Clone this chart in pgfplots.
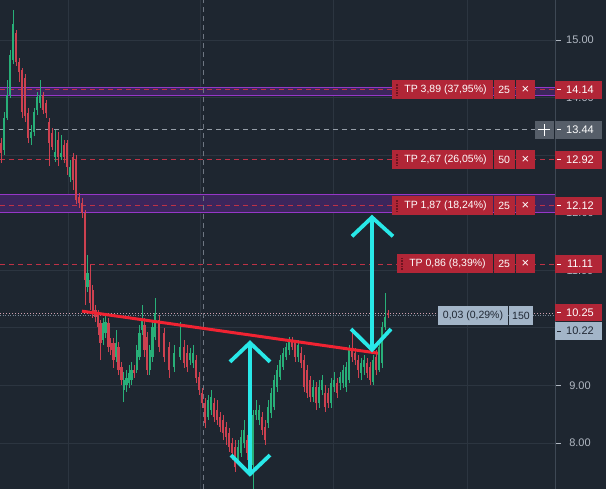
\documentclass[border=0pt]{standalone}
\usepackage{pgfplots}
\pgfplotsset{compat=1.18}
\usepackage{pgfplotstable}
\usepackage{fontspec}
\setmainfont{Liberation Sans}
\definecolor{bg}{RGB}{30,38,48}
\definecolor{gridc}{RGB}{44,53,64}
\definecolor{sepc}{RGB}{62,72,84}
\definecolor{tpred}{RGB}{178,38,55}
\definecolor{dashred}{RGB}{190,50,70}
\definecolor{pline}{RGB}{150,55,200}
\definecolor{pfill}{RGB}{60,38,92}
\definecolor{cy}{RGB}{40,232,232}
\definecolor{neck}{RGB}{240,35,50}
\definecolor{axtext}{RGB}{178,185,195}
\definecolor{posbox}{RGB}{163,181,200}
\definecolor{postext}{RGB}{32,40,52}
\definecolor{crossbox}{RGB}{86,94,105}
\definecolor{cgreen}{RGB}{40,175,120}
\definecolor{cred}{RGB}{205,65,80}
\definecolor{grip}{RGB}{110,20,32}
\definecolor{pinkdot}{RGB}{205,160,175}
\definecolor{graydot}{RGB}{120,135,150}
\definecolor{crossh}{RGB}{150,158,168}
\definecolor{crossv}{RGB}{110,118,130}

\pgfplotstableread{
x o h l c
4 13.09 13.75 13.00 13.65
7 13.65 14.31 13.61 14.05
10 14.05 14.83 13.99 14.74
13 14.65 15.52 14.58 15.28
31 13.30 13.52 13.18 13.40
34 13.40 13.82 13.33 13.75
37 13.78 14.10 13.70 14.01
40 13.91 14.31 13.82 14.05
55 12.97 13.44 12.88 13.05
61 12.97 13.35 12.92 13.04
70 12.62 12.92 12.53 12.79
87.6 10.71 11.27 10.62 10.95
103.1 9.79 10.17 9.70 10.08
105.7 9.91 10.22 9.82 10.10
116.1 9.49 9.96 9.41 9.74
123.9 8.92 9.23 8.71 9.09
126.5 9.01 9.27 8.89 9.13
129.1 9.04 9.36 8.96 9.22
131.7 9.09 9.41 9.01 9.27
136.8 9.27 9.70 9.22 9.62
139.4 9.49 10.05 9.44 9.91
142.0 9.96 10.40 9.88 10.14
149.8 9.27 9.70 9.18 9.62
152.4 9.49 10.14 9.41 10.02
155.0 9.84 10.52 9.79 10.26
174 9.32 9.70 9.23 9.56
180 9.49 10.10 9.44 9.67
190 9.44 9.65 9.36 9.56
193 9.39 9.70 9.30 9.56
208 8.45 8.83 8.40 8.75
211 8.57 8.92 8.49 8.80
238 7.71 8.05 7.62 7.93
241 7.83 8.23 7.76 8.10
244 8.00 8.40 7.91 8.23
253 7.62 8.57 7.20 8.49
256 8.49 8.75 8.40 8.57
259 8.40 8.66 8.31 8.57
268 8.35 8.75 8.26 8.63
271 8.52 8.96 8.43 8.87
274 8.63 9.18 8.57 9.09
277 8.97 9.36 8.89 9.27
280 9.15 9.53 9.09 9.44
283 9.32 9.65 9.27 9.56
286 9.49 9.74 9.44 9.67
289 9.62 9.84 9.53 9.79
298 9.49 9.79 9.41 9.70
313 8.80 9.09 8.71 8.97
319 8.69 9.09 8.61 8.97
322 8.92 9.18 8.83 9.09
331 8.69 9.13 8.61 9.04
334 8.97 9.23 8.89 9.09
340 9.04 9.23 8.92 9.15
343 9.04 9.36 8.96 9.27
346 8.97 9.41 8.89 9.32
349 9.09 9.70 9.04 9.62
361 9.22 9.47 9.09 9.39
364 9.32 9.53 9.18 9.44
373 9.06 9.53 9.01 9.44
379 9.27 9.75 9.23 9.67
382 9.39 10.10 9.30 10.02
385 10.02 10.61 9.96 10.19
}\greentab

\pgfplotstableread{
x o h l c
1 13.21 13.30 12.86 13.04
16 15.12 15.17 14.55 14.62
19 14.62 14.69 14.27 14.44
22 14.48 14.51 13.65 13.75
25 14.34 14.41 13.58 13.68
28 13.73 13.82 13.21 13.30
43 14.05 14.10 13.72 13.78
46 13.91 13.96 13.65 13.73
49 13.58 13.65 12.81 13.21
52 13.39 13.47 13.09 13.14
58 13.26 13.40 12.81 12.97
64 13.18 13.26 12.86 12.97
67 13.21 13.26 12.66 12.79
73 12.97 13.04 12.40 12.57
76 12.92 13.00 12.15 12.22
79 12.27 12.34 12.08 12.17
82 12.17 12.26 11.91 12.00
85 12.00 12.05 10.40 10.83
90.2 10.83 11.09 10.31 10.43
92.8 10.66 10.74 10.17 10.26
95.4 10.31 10.40 10.10 10.19
98.0 10.26 10.31 9.88 10.02
100.6 10.08 10.14 9.44 9.74
108.3 10.08 10.17 9.58 9.67
110.9 9.74 9.82 9.53 9.62
113.5 9.74 9.82 9.30 9.44
118.7 9.67 9.75 9.18 9.27
121.3 9.32 9.41 9.01 9.09
134.2 9.27 9.36 9.13 9.22
144.6 10.05 10.17 9.49 9.62
147.2 9.84 9.93 9.18 9.27
159 10.14 10.22 9.58 9.67
164 9.91 10.00 9.41 9.49
169 9.67 9.75 9.13 9.27
184 9.67 9.79 9.30 9.39
187 9.56 9.70 9.23 9.32
196 9.44 9.53 9.04 9.13
199 9.15 9.23 8.83 8.92
202 8.87 8.96 8.61 8.69
205 8.69 8.78 8.26 8.35
214 8.69 8.78 8.37 8.45
217 8.57 8.75 8.31 8.40
220 8.45 8.54 8.19 8.28
223 8.40 8.49 8.05 8.17
226 8.28 8.37 7.97 8.10
229 8.17 8.26 7.84 7.93
232 8.00 8.09 7.71 7.83
235 7.93 8.05 7.50 7.58
247 8.05 8.14 7.71 7.83
250 7.93 8.02 7.53 7.65
262 8.45 8.54 8.14 8.23
265 8.28 8.40 7.97 8.05
292 9.79 9.84 9.62 9.67
295 9.74 9.79 9.41 9.49
301 9.56 9.67 9.30 9.39
304 9.44 9.53 8.89 8.97
307 9.27 9.36 8.78 8.87
310 9.09 9.16 8.71 8.80
316 8.97 9.06 8.57 8.69
325 8.87 9.01 8.54 8.63
328 8.87 8.96 8.61 8.69
337 9.04 9.13 8.78 8.87
352 9.62 9.91 9.41 9.49
355 9.56 9.65 9.36 9.44
358 9.44 9.53 9.13 9.27
367 9.39 9.47 9.13 9.22
370 9.32 9.41 9.01 9.09
376 9.49 9.62 9.18 9.27
388 10.26 10.31 10.17 10.22
}\redtab

\begin{document}
\begin{tikzpicture}
\begin{axis}[
  width=606pt, height=489pt, scale only axis,
  xmin=0, xmax=606, ymin=7.201, ymax=15.695,
  axis lines=none,
  axis background/.style={fill=bg},
  clip=true,
]
% grid
\pgfplotsinvokeforeach{8,9,10,11,12,13,14,15}{
  \addplot[gridc, line width=0.8pt, forget plot] coordinates {(0,#1) (555,#1)};
}
\pgfplotsinvokeforeach{68,200,333,467}{
  \addplot[gridc, line width=0.8pt, forget plot] coordinates {(#1,7.2) (#1,15.7)};
}
\addplot[sepc, line width=0.8pt] coordinates {(555,7.2) (555,15.7)};

% purple bands
\fill[pfill] (axis cs:0,14.04) rectangle (axis cs:555,14.18);
\fill[pfill] (axis cs:0,12.00) rectangle (axis cs:555,12.31);
\addplot[pline, line width=1.1pt] coordinates {(0,14.04) (555,14.04)};
\addplot[pline, line width=1.1pt] coordinates {(0,14.18) (555,14.18)};
\addplot[pline, line width=1.1pt] coordinates {(0,12.00) (555,12.00)};
\addplot[pline, line width=1.1pt] coordinates {(0,12.31) (555,12.31)};

% dashed order lines
\addplot[dashred, line width=0.9pt, dash pattern=on 5pt off 4pt] coordinates {(0,14.14) (555,14.14)};
\addplot[dashred, line width=0.9pt, dash pattern=on 5pt off 4pt] coordinates {(0,12.92) (555,12.92)};
\addplot[dashred, line width=0.9pt, dash pattern=on 5pt off 4pt] coordinates {(0,12.12) (555,12.12)};
\addplot[dashred, line width=0.9pt, dash pattern=on 5pt off 4pt] coordinates {(0,11.11) (555,11.11)};
\addplot[pinkdot, line width=0.8pt, dash pattern=on 1pt off 2pt] coordinates {(0,10.25) (555,10.25)};
\addplot[graydot, line width=0.6pt, dash pattern=on 1pt off 1.5pt] coordinates {(0,10.21) (555,10.21)};

% crosshair
\addplot[crossh, line width=0.8pt, dash pattern=on 5pt off 4pt] coordinates {(0,13.44) (535,13.44)};
\addplot[crossv, line width=0.8pt, dash pattern=on 5pt off 4pt] coordinates {(203,7.2) (203,15.7)};

% candles: wicks
\addplot[draw=none, mark=none, error bars/.cd, y dir=plus, y explicit, error mark=none,
  error bar style={draw=cgreen, line width=1pt}]
  table[x=x, y=l, y error expr=\thisrow{h}-\thisrow{l}] {\greentab};
\addplot[draw=none, mark=none, error bars/.cd, y dir=plus, y explicit, error mark=none,
  error bar style={draw=cred, line width=1pt}]
  table[x=x, y=l, y error expr=\thisrow{h}-\thisrow{l}] {\redtab};
% candles: bodies
\addplot[draw=none, mark=none, error bars/.cd, y dir=plus, y explicit, error mark=none,
  error bar style={draw=cgreen, line width=2.5pt}]
  table[x=x, y=o, y error expr=\thisrow{c}-\thisrow{o}] {\greentab};
\addplot[draw=none, mark=none, error bars/.cd, y dir=plus, y explicit, error mark=none,
  error bar style={draw=cred, line width=2.5pt}]
  table[x=x, y=c, y error expr=\thisrow{o}-\thisrow{c}] {\redtab};

% neckline
\addplot[neck, line width=3pt] coordinates {(82,10.29) (378,9.56)};

% cyan arrows
\addplot[cy, line width=3.8pt] coordinates {(250,9.74) (250,7.46)};
\addplot[cy, line width=3.8pt, line join=miter] coordinates {(230,9.41) (250,9.74) (270,9.41)};
\addplot[cy, line width=3.8pt, line join=miter] coordinates {(231,7.79) (250,7.46) (270,7.79)};
\addplot[cy, line width=3.8pt] coordinates {(372,11.92) (372,9.62)};
\addplot[cy, line width=3.8pt, line join=miter] coordinates {(352,11.59) (372,11.92) (393,11.59)};
\addplot[cy, line width=3.8pt, line join=miter] coordinates {(351,9.98) (372,9.62) (391,9.98)};

% axis labels (partly hidden ones first)
\begin{scope}[every node/.style={font=\fontsize{11}{13}\selectfont, text=axtext, inner sep=0pt}]
\node at (axis cs:580,15.00) {15.00};
\node at (axis cs:580,14.00) {14.00};
\node at (axis cs:580,12.00) {12.00};
\node at (axis cs:580,11.00) {11.00};
\node at (axis cs:580,9.00) {9.00};
\node at (axis cs:580,8.00) {8.00};
\end{scope}
\draw[axtext, line width=0.8pt] (axis cs:556,15) -- (axis cs:561,15);
\draw[axtext, line width=0.8pt] (axis cs:556,9) -- (axis cs:561,9);
\draw[axtext, line width=0.8pt] (axis cs:556,8) -- (axis cs:561,8);

% TP boxes
\begin{scope}[every node/.style={font=\fontsize{10.5}{12}\selectfont, text=white, inner sep=0pt}]
% 14.14
\fill[tpred] ([yshift=-9.5pt]axis cs:392,14.14) rectangle ([yshift=9.5pt]axis cs:493,14.14);
\fill[tpred] ([yshift=-9.5pt]axis cs:494,14.14) rectangle ([yshift=9.5pt]axis cs:514.5,14.14);
\fill[tpred] ([yshift=-9.5pt]axis cs:515.5,14.14) rectangle ([yshift=9.5pt]axis cs:535,14.14);
\draw[grip, line width=1.6pt, dash pattern=on 0.8pt off 0.8pt] ([yshift=-6pt]axis cs:397,14.14) -- ([yshift=6pt]axis cs:397,14.14);
\node at (axis cs:445.5,14.14) {TP 3,89 (37,95\%)};
\node at (axis cs:504.2,14.14) {25};
\node[font=\fontsize{13}{13}\selectfont] at (axis cs:525.3,14.14) {×};
% 12.92
\fill[tpred] ([yshift=-9.5pt]axis cs:392,12.92) rectangle ([yshift=9.5pt]axis cs:493,12.92);
\fill[tpred] ([yshift=-9.5pt]axis cs:494,12.92) rectangle ([yshift=9.5pt]axis cs:514.5,12.92);
\fill[tpred] ([yshift=-9.5pt]axis cs:515.5,12.92) rectangle ([yshift=9.5pt]axis cs:535,12.92);
\draw[grip, line width=1.6pt, dash pattern=on 0.8pt off 0.8pt] ([yshift=-6pt]axis cs:397,12.92) -- ([yshift=6pt]axis cs:397,12.92);
\node at (axis cs:445.5,12.92) {TP 2,67 (26,05\%)};
\node at (axis cs:504.2,12.92) {50};
\node[font=\fontsize{13}{13}\selectfont] at (axis cs:525.3,12.92) {×};
% 12.12
\fill[tpred] ([yshift=-9.5pt]axis cs:392,12.12) rectangle ([yshift=9.5pt]axis cs:493,12.12);
\fill[tpred] ([yshift=-9.5pt]axis cs:494,12.12) rectangle ([yshift=9.5pt]axis cs:514.5,12.12);
\fill[tpred] ([yshift=-9.5pt]axis cs:515.5,12.12) rectangle ([yshift=9.5pt]axis cs:535,12.12);
\draw[grip, line width=1.6pt, dash pattern=on 0.8pt off 0.8pt] ([yshift=-6pt]axis cs:397,12.12) -- ([yshift=6pt]axis cs:397,12.12);
\node at (axis cs:445.5,12.12) {TP 1,87 (18,24\%)};
\node at (axis cs:504.2,12.12) {25};
\node[font=\fontsize{13}{13}\selectfont] at (axis cs:525.3,12.12) {×};
% 11.11
\fill[tpred] ([yshift=-9.5pt]axis cs:397,11.11) rectangle ([yshift=9.5pt]axis cs:493,11.11);
\fill[tpred] ([yshift=-9.5pt]axis cs:494,11.11) rectangle ([yshift=9.5pt]axis cs:514.5,11.11);
\fill[tpred] ([yshift=-9.5pt]axis cs:515.5,11.11) rectangle ([yshift=9.5pt]axis cs:535,11.11);
\draw[grip, line width=1.6pt, dash pattern=on 0.8pt off 0.8pt] ([yshift=-6pt]axis cs:402,11.11) -- ([yshift=6pt]axis cs:402,11.11);
\node at (axis cs:447.5,11.11) {TP 0,86 (8,39\%)};
\node at (axis cs:504.2,11.11) {25};
\node[font=\fontsize{13}{13}\selectfont] at (axis cs:525.3,11.11) {×};
\end{scope}

% position box
\fill[posbox] ([yshift=-9.5pt]axis cs:438,10.215) rectangle ([yshift=9.5pt]axis cs:508,10.215);
\fill[posbox] ([yshift=-9.5pt]axis cs:509,10.215) rectangle ([yshift=9.5pt]axis cs:533,10.215);
\node[font=\fontsize{10.5}{12}\selectfont, text=postext, inner sep=0pt] at (axis cs:473,10.215) {0,03 (0,29\%)};
\node[font=\fontsize{10.5}{12}\selectfont, text=postext, inner sep=0pt] at (axis cs:521,10.215) {150};

% price tags
\begin{scope}[every node/.style={font=\fontsize{11}{13}\selectfont, text=white, inner sep=0pt}]
\fill[tpred] ([yshift=-9pt]axis cs:555,14.14) rectangle ([yshift=9pt]axis cs:602,14.14);
\draw[white, line width=0.8pt] (axis cs:557,14.14) -- (axis cs:561,14.14);
\node at (axis cs:580,14.14) {14.14};
\fill[crossbox] ([yshift=-9pt]axis cs:535,13.44) rectangle ([yshift=9pt]axis cs:553.5,13.44);
\draw[white, line width=0.9pt] ([xshift=-6pt]axis cs:544,13.44) -- ([xshift=6pt]axis cs:544,13.44);
\draw[white, line width=0.9pt] ([yshift=-6pt]axis cs:544,13.44) -- ([yshift=6pt]axis cs:544,13.44);
\fill[crossbox] ([yshift=-9pt]axis cs:555,13.44) rectangle ([yshift=9pt]axis cs:602,13.44);
\draw[white, line width=0.8pt] (axis cs:557,13.44) -- (axis cs:561,13.44);
\node at (axis cs:580,13.44) {13.44};
\fill[tpred] ([yshift=-9pt]axis cs:555,12.92) rectangle ([yshift=9pt]axis cs:602,12.92);
\draw[white, line width=0.8pt] (axis cs:557,12.92) -- (axis cs:561,12.92);
\node at (axis cs:580,12.92) {12.92};
\fill[tpred] ([yshift=-9pt]axis cs:555,12.12) rectangle ([yshift=9pt]axis cs:602,12.12);
\draw[white, line width=0.8pt] (axis cs:557,12.12) -- (axis cs:561,12.12);
\node at (axis cs:580,12.12) {12.12};
\fill[tpred] ([yshift=-9pt]axis cs:555,11.11) rectangle ([yshift=9pt]axis cs:602,11.11);
\draw[white, line width=0.8pt] (axis cs:557,11.11) -- (axis cs:561,11.11);
\node at (axis cs:580,11.11) {11.11};
\fill[tpred] ([yshift=-8.5pt]axis cs:555,10.26) rectangle ([yshift=8.5pt]axis cs:602,10.26);
\draw[white, line width=0.8pt] (axis cs:557,10.26) -- (axis cs:561,10.26);
\node at (axis cs:580,10.26) {10.25};
\fill[posbox] ([yshift=-9pt]axis cs:555,9.945) rectangle ([yshift=9pt]axis cs:602,9.945);
\draw[postext, line width=0.8pt] (axis cs:557,9.945) -- (axis cs:561,9.945);
\node[text=postext] at (axis cs:580,9.945) {10.22};
\end{scope}
\end{axis}
\end{tikzpicture}
\end{document}
